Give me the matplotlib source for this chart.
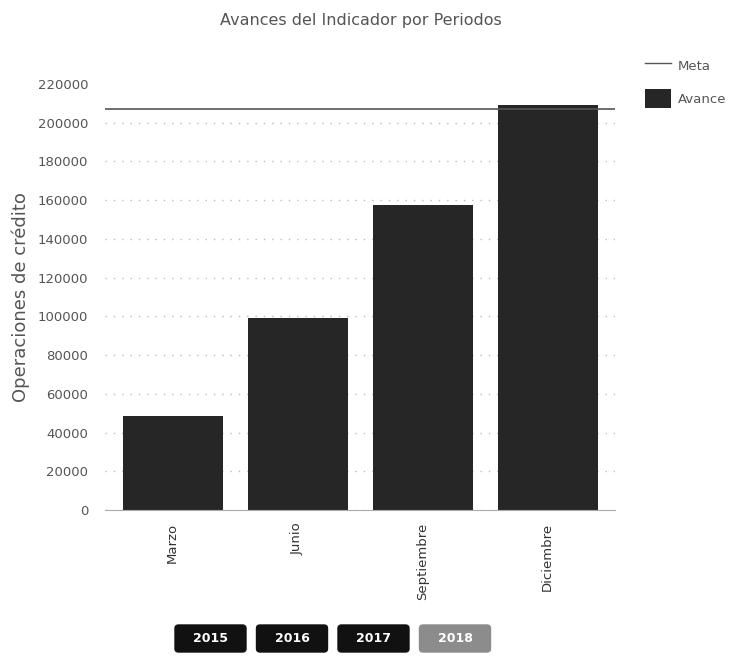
import numpy as np
import matplotlib.pyplot as plt
from matplotlib.patches import FancyBboxPatch
from matplotlib.lines import Line2D
from matplotlib.patches import Patch

periodos = ["Marzo", "Junio", "Septiembre", "Diciembre"]
avance = [48600, 99200, 157500, 209200]
meta = 207100
anios = ["2015", "2016", "2017", "2018"]
yticks = list(range(0, 220001, 20000))

fig = plt.figure(figsize=(7.29, 6.58), dpi=100)
ax = fig.add_axes([105/729, 1-510/658, 510/729, 426/658])

x = np.arange(len(periodos))
ax.bar(x, avance, width=0.8, color="#262626", zorder=2)
ax.axhline(meta, color="#555555", lw=1.2, zorder=3)
ax.set_xlim(-0.54, 3.54)
ax.set_ylim(0, 220000)
ax.set_yticks(yticks)
ax.set_yticklabels([str(v) for v in yticks], color="#555555", fontsize=9.5)
ax.set_xticks(x)
ax.set_xticklabels(periodos, rotation=90, color="#333333", fontsize=9.5)
ax.tick_params(length=0, pad=9)
ax.tick_params(axis="y", pad=12)
ax.grid(axis="y", color="#bbbbbb", linestyle=(0, (1, 5)), lw=1, zorder=0)
ax.yaxis.get_gridlines()[-1].set_visible(False)
for s in ["top", "right", "left"]:
    ax.spines[s].set_visible(False)
ax.spines["bottom"].set_color("#aaaaaa")
ax.set_ylabel("Operaciones de crédito", color="#555555", fontsize=13, labelpad=6)

fig.text(361/729, 1-20/658, "Avances del Indicador por Periodos", ha="center", va="center",
         color="#555555", fontsize=11.5)

handles = [Line2D([0], [0], color="#555555", lw=1),
           Patch(facecolor="#262626")]
fig.legend(handles, ["Meta", "Avance"], loc="upper left", bbox_to_anchor=(633/729, 1-44/658),
           frameon=False, fontsize=9.5, labelcolor="#555555", handlelength=2.0,
           handleheight=1.9, handletextpad=0.5, labelspacing=1.0)

# year buttons
for i, a in enumerate(anios):
    x0 = 175 + i * 81.5
    col = "#111111" if i < 3 else "#8c8c8c"
    box = FancyBboxPatch((x0/729, 1-652/658), 71/729, 27/658,
                         boxstyle="round,pad=0,rounding_size=0.005",
                         transform=fig.transFigure, facecolor=col, edgecolor=col)
    fig.patches.append(box)
    fig.text((x0+35.5)/729, 1-638/658, a, ha="center", va="center", color="white",
             fontsize=9, fontweight="bold")

fig.savefig("out.png", dpi=100)
